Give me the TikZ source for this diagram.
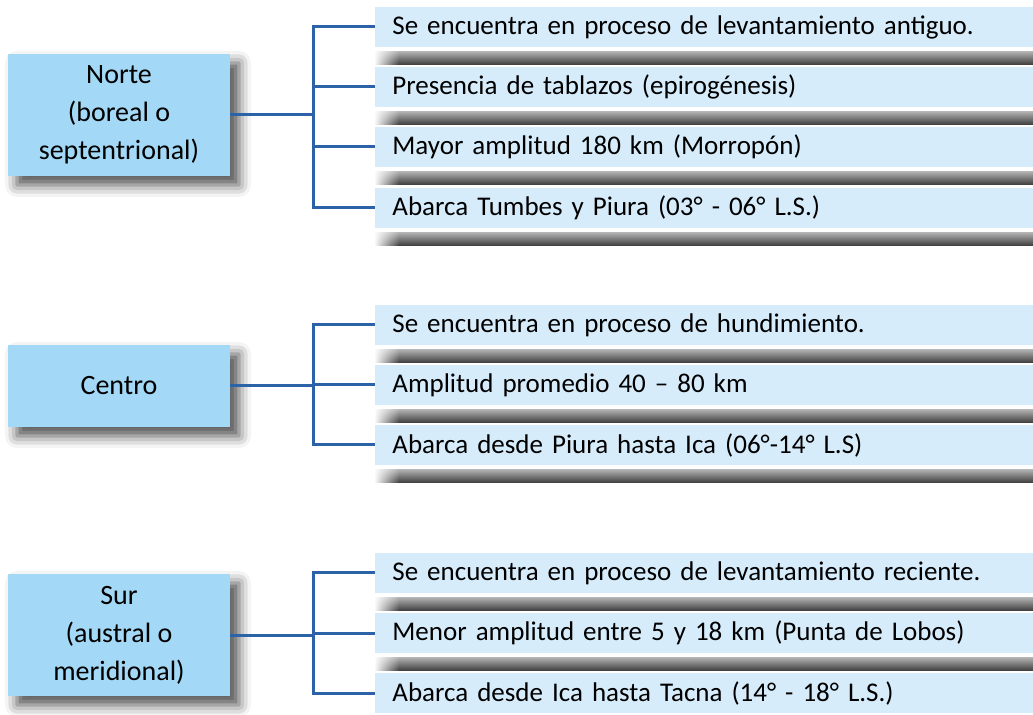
\documentclass[tikz,border=0pt]{standalone}
\usepackage{fontspec}
\setmainfont{Carlito}
\usetikzlibrary{positioning,shadows.blur,fadings}

\definecolor{zonefill}{HTML}{A3D9F6}
\definecolor{traitfill}{HTML}{D6ECFB}
\definecolor{linkblue}{HTML}{2C63A8}

\tikzfading[name=barfade, left color=transparent!0, right color=transparent!100]

\tikzset{
  zone/.style={fill=zonefill, minimum width=111pt, minimum height=61pt, inner sep=0pt,
    align=center, font=\fontsize{14}{19}\selectfont,
    blur shadow={shadow xshift=4.5pt, shadow yshift=-4.5pt, shadow blur radius=6pt, shadow opacity=70}},
  trait/.style={fill=traitfill, anchor=west, text width=330pt, minimum height=20pt,
    inner xsep=8.5pt, inner ysep=0pt, align=left, font=\fontsize{13.5}{17}\selectfont},
  link/.style={draw=linkblue, line width=1.5pt},
  bar/.style={top color=black!30, bottom color=black!75},
  barend/.style={fill=white, path fading=barfade}
}

\begin{document}
\begin{tikzpicture}[x=0.5pt,y=-0.5pt]
    \useasboundingbox (0,0) rectangle (1033,715);
    \clip (0,0) rectangle (1033,715);
    % zonas
    \node[zone] (norte) at (119,115) {Norte\\(boreal o\\septentrional)};
    \node[zone, minimum height=41pt] (centro) at (119,386) {Centro};
    \node[zone] (sur) at (119,635) {Sur\\(austral o\\meridional)};
    % norte
    \node[trait] (n1) at (375,27) {Se encuentra en proceso de levantamiento antiguo.};
    \node[trait] (n2) at (375,87) {Presencia de tablazos (epirogénesis)};
    \node[trait] (n3) at (375,147) {Mayor amplitud 180 km (Morropón)};
    \node[trait] (n4) at (375,208) {Abarca Tumbes y Piura (03° - 06° L.S.)};
    % centro
    \node[trait] (c1) at (375,325) {Se encuentra en proceso de hundimiento.};
    \node[trait] (c2) at (375,385) {Amplitud promedio 40 – 80 km};
    \node[trait] (c3) at (375,445) {Abarca desde Piura hasta Ica (06°-14° L.S)};
    % sur
    \node[trait] (s1) at (375,573) {Se encuentra en proceso de levantamiento reciente.};
    \node[trait] (s2) at (375,633) {Menor amplitud entre 5 y 18 km (Punta de Lobos)};
    \node[trait] (s3) at (375,693) {Abarca desde Ica hasta Tacna (14° - 18° L.S.)};
    % sombras
    \foreach \b in {n1,n2,n3,n4,c1,c2,c3,s1,s2} {
        \shade[bar] ($(\b.south west)+(0,4)$) rectangle ($(\b.south east)+(0,17)$);
        \fill[barend] ($(\b.south west)+(-1,3)$) rectangle ($(\b.south west)+(24,18)$);
    }
    % llaves
    \coordinate (nx) at (313,0);
    \draw[link] (norte.east) -- (norte.east -| nx);
    \draw[link] (n1.west) -- (n1.west -| nx) -- (n4.west -| nx) -- (n4.west);
    \draw[link] (n2.west) -- (n2.west -| nx);
    \draw[link] (n3.west) -- (n3.west -| nx);
    \draw[link] (centro.east) -- (centro.east -| nx);
    \draw[link] (c1.west) -- (c1.west -| nx) -- (c3.west -| nx) -- (c3.west);
    \draw[link] (c2.west) -- (c2.west -| nx);
    \draw[link] (sur.east) -- (sur.east -| nx);
    \draw[link] (s1.west) -- (s1.west -| nx) -- (s3.west -| nx) -- (s3.west);
    \draw[link] (s2.west) -- (s2.west -| nx);
\end{tikzpicture}
\end{document}
